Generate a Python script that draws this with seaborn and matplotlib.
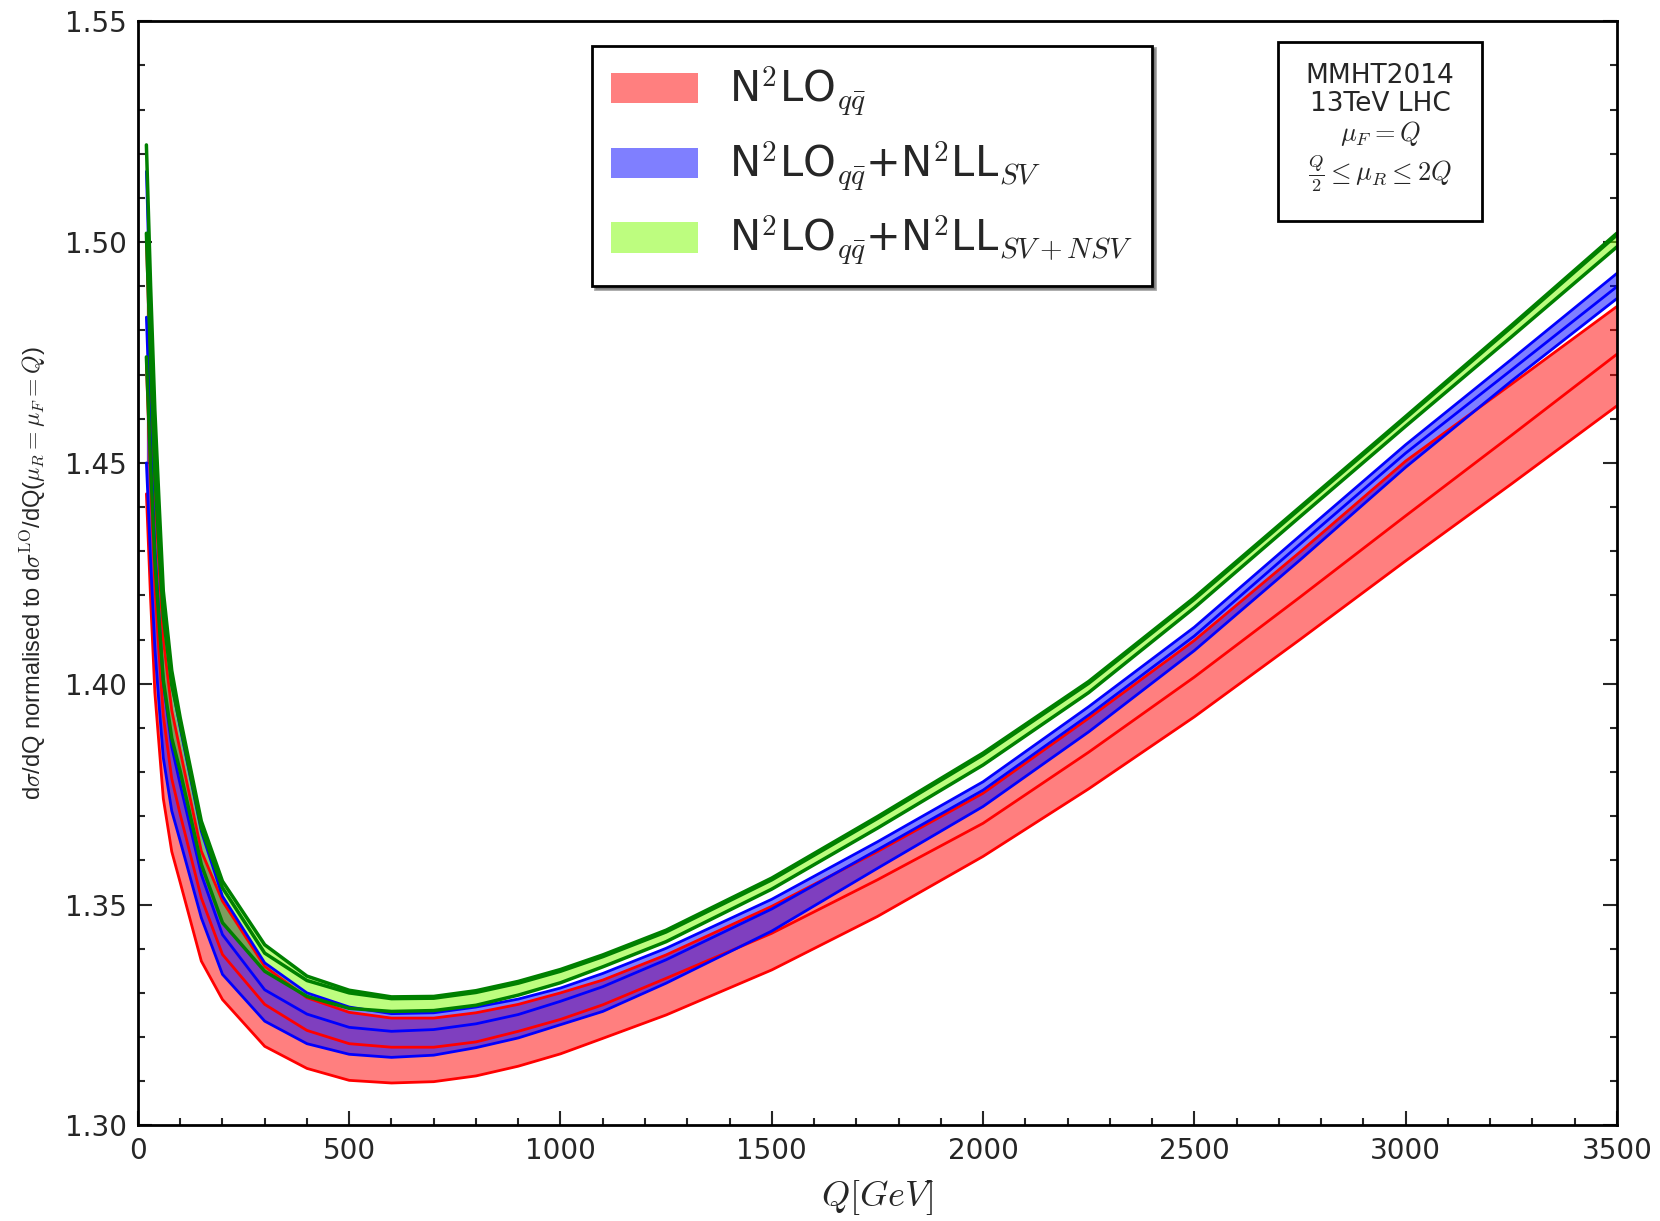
import numpy as np
import pandas as pd
import matplotlib
matplotlib.use("Agg")
import matplotlib.pyplot as plt
import seaborn as sns
from matplotlib.patches import Patch

# ================== CONFIG ==================
sns.set_style("ticks")
plt.rcParams["font.family"] = ["DejaVu Sans"]
plt.rcParams["mathtext.fontset"] = "cm"

# ================== DADOS ==================
Q = [20, 30, 40, 50, 60, 80, 100, 150, 200, 300, 400, 500, 600, 700, 800, 900,
     1000, 1100, 1250, 1500, 1750, 2000, 2250, 2500, 2750, 3000, 3250, 3500]

# N2LO (red)
red_up = [1.500, 1.4700, 1.4436, 1.4263, 1.4101, 1.3940, 1.3848, 1.3621, 1.3508, 1.3360,
          1.3289, 1.3256, 1.3243, 1.3243, 1.3255, 1.3274, 1.3300, 1.3329, 1.3386, 1.3496,
          1.3620, 1.3752, 1.3922, 1.4098, 1.4298, 1.4504, 1.4678, 1.4854]
red_mid = [1.472, 1.4456, 1.4222, 1.4070, 1.3928, 1.3785, 1.3704, 1.3515, 1.3387, 1.3274,
           1.3215, 1.3185, 1.3177, 1.3177, 1.3189, 1.3213, 1.3240, 1.3273, 1.3333, 1.3435,
           1.3556, 1.3684, 1.3845, 1.4015, 1.4196, 1.4380, 1.4562, 1.4746]
red_lo = [1.443, 1.419, 1.398, 1.386, 1.374, 1.362, 1.355, 1.3372, 1.3285, 1.3179,
          1.3129, 1.3102, 1.3096, 1.3099, 1.3112, 1.3134, 1.3162, 1.3197, 1.3250, 1.3352,
          1.3473, 1.3609, 1.3762, 1.3925, 1.4100, 1.4278, 1.4452, 1.4629]

# N2LO + N2LL_SV (blue)
blue_up = [1.516, 1.4832, 1.4543, 1.4354, 1.4177, 1.4001, 1.3900, 1.3666, 1.3519, 1.3368,
           1.3300, 1.3268, 1.3253, 1.3255, 1.3268, 1.3286, 1.3311, 1.3344, 1.3401, 1.3512,
           1.3642, 1.3778, 1.3948, 1.4128, 1.4335, 1.4541, 1.4734, 1.4929]
blue_mid = [1.483, 1.4555, 1.4312, 1.4153, 1.4005, 1.3857, 1.3772, 1.3568, 1.3432, 1.3307,
            1.3252, 1.3222, 1.3213, 1.3217, 1.3230, 1.3251, 1.3281, 1.3314, 1.3375, 1.3490,
            1.3624, 1.3759, 1.3929, 1.4108, 1.4316, 1.4522, 1.4710, 1.4899]
blue_lo = [1.450, 1.4277, 1.4081, 1.3952, 1.3832, 1.3712, 1.3644, 1.3470, 1.3342, 1.3236,
           1.3185, 1.3161, 1.3154, 1.3159, 1.3176, 1.3198, 1.3228, 1.3258, 1.3322, 1.3440,
           1.3582, 1.3722, 1.3891, 1.4075, 1.4280, 1.4490, 1.4685, 1.4872]

# N2LO + N2LL_SV+NSV (green)
green_up = [1.522, 1.4900, 1.4620, 1.4410, 1.4210, 1.4030, 1.3923, 1.3689, 1.3553, 1.3409,
            1.3338, 1.3306, 1.3291, 1.3292, 1.3305, 1.3326, 1.3353, 1.3386, 1.3442, 1.3560,
            1.3699, 1.3843, 1.4005, 1.4195, 1.4400, 1.4605, 1.4811, 1.5020]
green_mid = [1.502, 1.4731, 1.4475, 1.4308, 1.4153, 1.3997, 1.3908, 1.3674, 1.3538, 1.3390,
             1.3328, 1.3300, 1.3287, 1.3288, 1.3301, 1.3322, 1.3349, 1.3382, 1.3438, 1.3556,
             1.3695, 1.3839, 1.4001, 1.4191, 1.4396, 1.4601, 1.4807, 1.5016]
green_lo = [1.474, 1.4496, 1.4280, 1.4140, 1.4008, 1.3877, 1.3802, 1.3591, 1.3459, 1.3349,
            1.3292, 1.3265, 1.3258, 1.3260, 1.3272, 1.3295, 1.3323, 1.3359, 1.3416, 1.3535,
            1.3673, 1.3816, 1.3980, 1.4172, 1.4378, 1.4583, 1.4785, 1.4989]

labels = [r"N$^{\mathsf{2}}$LO$_{q\bar{q}}$",
          r"N$^{\mathsf{2}}$LO$_{q\bar{q}}$+N$^{\mathsf{2}}$LL$_{SV}$",
          r"N$^{\mathsf{2}}$LO$_{q\bar{q}}$+N$^{\mathsf{2}}$LL$_{SV+NSV}$"]

bands = [
    (red_lo, red_mid, red_up, "red", "red", 2.0),
    (blue_lo, blue_mid, blue_up, "blue", "blue", 2.0),
    (green_lo, green_mid, green_up, "lawngreen", "green", 2.5),
]

# ================== GRAFICO ==================
fig = plt.figure(figsize=(16.6, 12.21), dpi=100)
ax = fig.add_axes([0.0831, 0.0783, 0.8909, 0.9043])

for lo, mid, up, fc, lc, lw in bands:
    ax.fill_between(Q, lo, up, color=fc, alpha=0.5, lw=0)

for lo, mid, up, fc, lc, lw in bands:
    for ys in (lo, mid, up):
        sns.lineplot(x=Q, y=ys, color=lc, lw=lw, ax=ax, sort=False, estimator=None, legend=False)

ax.set_xlim(0, 3500)
ax.set_ylim(1.30, 1.55)
ax.set_xticks(np.arange(0, 3501, 500))
ax.set_yticks([1.30, 1.35, 1.40, 1.45, 1.50, 1.55])
ax.set_yticklabels(["1.30", "1.35", "1.40", "1.45", "1.50", "1.55"])
ax.set_xticks(np.arange(0, 3501, 100), minor=True)
ax.set_yticks(np.arange(1.30, 1.5501, 0.01), minor=True)
ax.tick_params(which="both", direction="in", left=True, right=True, top=False, bottom=True,
               width=1.5, labelsize=20, pad=8)
ax.tick_params(which="major", length=10)
ax.tick_params(which="minor", length=5)
for sp in ax.spines.values():
    sp.set_linewidth(2)
    sp.set_color("black")

ax.set_xlabel(r"$Q[GeV]$", fontsize=26, labelpad=10)
ax.set_ylabel(r"d$\sigma$/dQ normalised to d$\sigma^{\rm LO}$/dQ($\mu_R=\mu_F=Q$)",
              fontsize=17, family="Liberation Sans", labelpad=12)

handles = [Patch(facecolor=c, alpha=0.5, lw=0) for c in ["red", "blue", "lawngreen"]]
leg = ax.legend(handles, labels, loc="upper left", bbox_to_anchor=(0.307, 0.978),
                borderaxespad=0, fontsize=30, frameon=True, fancybox=False, shadow=True,
                handlelength=2.1, handleheight=0.75, handletextpad=0.75, labelspacing=0.5,
                borderpad=0.45)
leg.get_frame().set_edgecolor("black")
leg.get_frame().set_linewidth(2)

ax.text(0.840, 0.962,
        "MMHT2014\n13TeV LHC\n" + r"$\mu_F=Q$" + "\n" + r"$\frac{Q}{2}\leq\mu_R\leq 2Q$",
        transform=ax.transAxes, ha="center", va="top", fontsize=19, linespacing=1.1,
        bbox=dict(boxstyle="square,pad=1.05", facecolor="white", edgecolor="black", lw=2))

fig.savefig("out.png", dpi=100)
